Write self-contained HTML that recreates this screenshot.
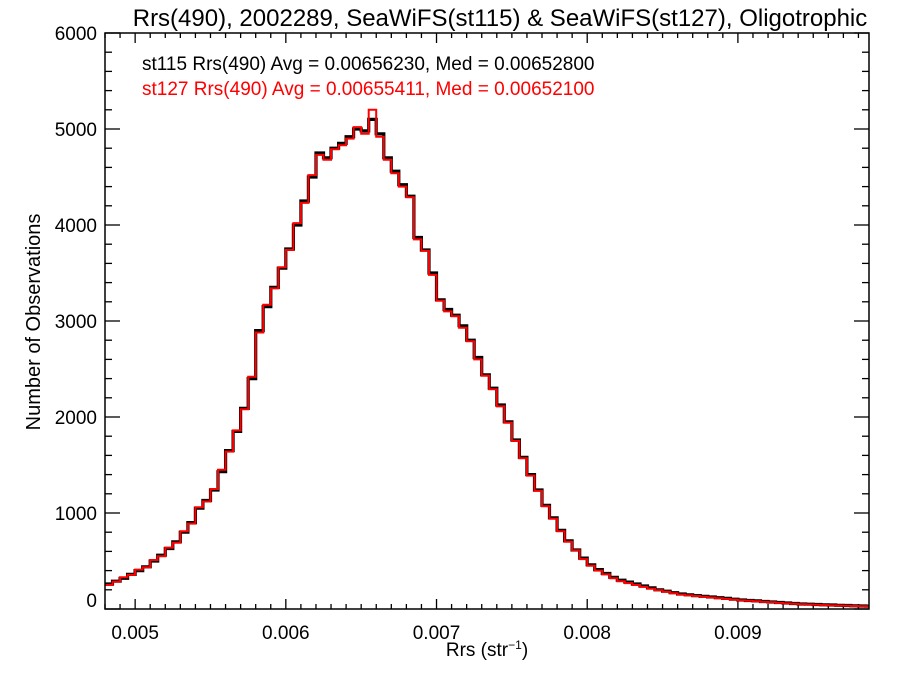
<!DOCTYPE html>
<html><head><meta charset="utf-8"><style>
body{margin:0;background:#fff;}
svg{display:block;font-family:"Liberation Sans",Arial,sans-serif;}
</style></head><body>
<svg id="chart" width="900" height="675">
<text x="500" y="26" font-size="24" text-anchor="middle">Rrs(490), 2002289, SeaWiFS(st115) &amp; SeaWiFS(st127), Oligotrophic</text>
<text x="142" y="70" font-size="19">st115 Rrs(490) Avg = 0.00656230, Med = 0.00652800</text>
<text x="142" y="95" font-size="19" fill="#ff0000">st127 Rrs(490) Avg = 0.00655411, Med = 0.00652100</text>
<text x="487" y="656" font-size="19" text-anchor="middle">Rrs (str<tspan font-size="12" dy="-7">−1</tspan><tspan dy="7">)</tspan></text>
<text transform="translate(40,322) rotate(-90)" font-size="20" text-anchor="middle">Number of Observations</text>
<g id="axes"></g>
<g id="series"></g>
<rect x="105" y="33" width="764" height="576" fill="none" stroke="#000" stroke-width="1.5"/>
</svg>
<script>
const xStart = 0.0048;
const binWidth = 0.00005;
const st115Counts = [260,290,320,360,400,440,500,560,630,700,800,900,1050,1130,1240,1430,1650,1850,2090,2400,2900,3150,3350,3550,3750,4000,4250,4500,4750,4700,4800,4850,4920,5000,4980,5100,4950,4700,4560,4420,4300,3870,3740,3500,3220,3120,3060,2950,2800,2620,2440,2300,2125,1950,1760,1580,1400,1240,1080,950,820,710,615,530,460,410,370,330,300,280,260,240,220,200,185,170,156,148,140,132,125,118,110,102,94,89,84,78,73,68,62,57,52,50,47,44,42,39,36,33,31,29];
const st127Counts = [250,285,330,355,410,435,510,550,640,690,810,890,1060,1120,1250,1450,1640,1860,2080,2420,2880,3170,3340,3560,3740,4020,4230,4520,4730,4680,4790,4830,4900,5020,4950,5200,4920,4680,4540,4400,4290,3850,3730,3480,3210,3100,3050,2930,2790,2600,2430,2290,2110,1940,1750,1570,1390,1230,1070,940,810,700,610,520,450,400,360,320,290,270,250,230,210,195,180,165,150,142,135,128,120,112,105,98,90,85,80,74,70,64,58,54,50,47,44,41,38,36,33,31,29,27];
const xTicks = [0.005,0.006,0.007,0.008,0.009];
const xTickLabels = ["0.005","0.006","0.007","0.008","0.009"];
const yTicks = [0,1000,2000,3000,4000,5000,6000];
const yTickLabels = ["0","1000","2000","3000","4000","5000","6000"];
const X0=105,X1=869,Y0=609,Y1=33,xmin=0.0048,xmax=0.00987,ymin=0,ymax=6000;
const xs=v=>X0+(v-xmin)/(xmax-xmin)*(X1-X0);
const ys=v=>Y0-(v-ymin)/(ymax-ymin)*(Y0-Y1);
const NS='http://www.w3.org/2000/svg';
const axes=document.getElementById('axes'), series=document.getElementById('series');
function mk(tag,attrs,parent){const e=document.createElementNS(NS,tag);for(const k in attrs)e.setAttribute(k,attrs[k]);parent.appendChild(e);return e;}
for(let v=0.0048;v<=xmax+1e-9;v+=0.0001){
  const major=xTicks.some(t=>Math.abs(t-v)<1e-8);
  const x=xs(v), len=major?10:5;
  const t1=mk('line',{x1:x,x2:x,y1:Y0,y2:Y0-len,stroke:'#000','stroke-width':1.3},axes);
  
  
  const t2=mk('line',{x1:x,x2:x,y1:Y1,y2:Y1+len,stroke:'#000','stroke-width':1.3},axes);
  
  
}
xTicks.forEach((v,i)=>{
  const t=mk('text',{x:xs(v),y:639,'font-size':19,'text-anchor':'middle'},axes);
  t.textContent=xTickLabels[i];
  
  
});
for(let v=0;v<=ymax;v+=200){
  const major=v%1000===0;
  const y=ys(v), len=major?15:7;
  const t1=mk('line',{x1:X0,x2:X0+len,y1:y,y2:y,stroke:'#000','stroke-width':1.3},axes);
  
  
  const t2=mk('line',{x1:X1,x2:X1-len,y1:y,y2:y,stroke:'#000','stroke-width':1.3},axes);
  
  
}
yTicks.forEach((v,i)=>{
  const y=v===0?ys(v)-9:ys(v);
  const t=mk('text',{x:97,y:y+7,'font-size':19,'text-anchor':'end'},axes);
  t.textContent=yTickLabels[i];
  
  
});
function stepPath(counts){
  let d='';
  counts.forEach((c,i)=>{
    const xa=xs(xStart+i*binWidth), xb=xs(xStart+(i+1)*binWidth), y=ys(c);
    d+=(i===0?'M':'L')+xa.toFixed(1)+','+y.toFixed(1)+'L'+Math.min(xb,X1).toFixed(1)+','+y.toFixed(1);
  });
  return d;
}
const p1=mk('path',{d:stepPath(st115Counts),fill:'none',stroke:'#000','stroke-width':3.2},series);


const p2=mk('path',{d:stepPath(st127Counts),fill:'none',stroke:'#ff0000','stroke-width':2},series);


</script>
</body></html>
